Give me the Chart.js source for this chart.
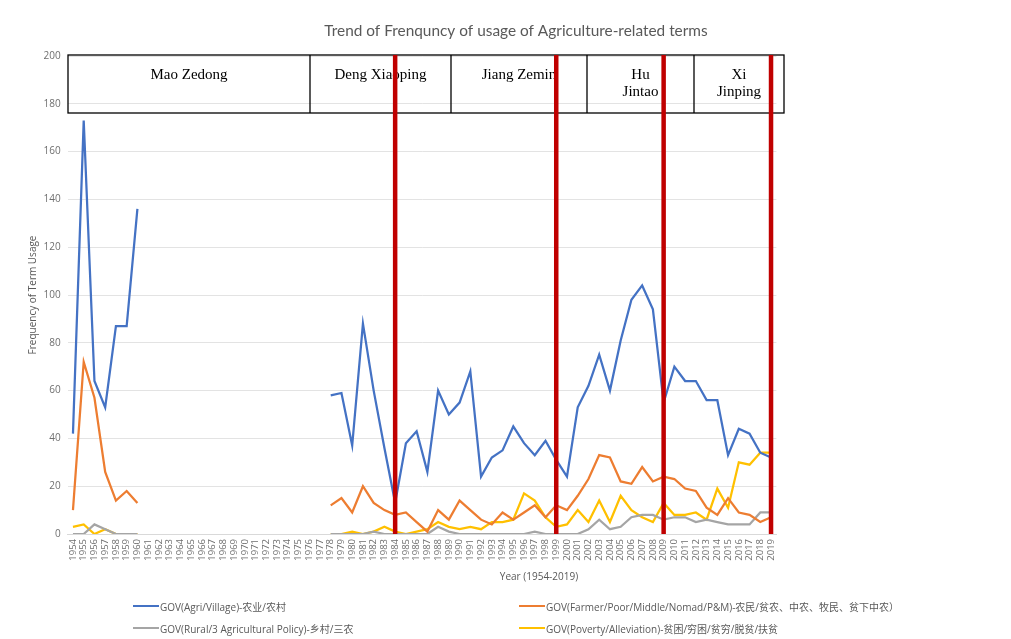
<!DOCTYPE html>
<html>
<head>
<meta charset="utf-8">
<script src="https://cdn.jsdelivr.net/npm/chart.js@4.4.1/dist/chart.umd.min.js"></script>
<style>
  body { margin: 0; background: #fff; }
  #wrap { position: relative; width: 1011px; height: 639px; }
  .lg { position: absolute; height: 14px; font: 10px 'Open Sans', 'Noto Sans CJK SC', sans-serif; color: #595959;
        display: flex; align-items: center; white-space: nowrap; }
  .lg i { display: inline-block; width: 26px; height: 2px; margin-right: 1px; }
</style>
</head>
<body>
<div id="wrap">
  <canvas id="grafico"></canvas>
</div>
<script>
// Dados
const years = ['1954','1955','1956','1957','1958','1959','1960','1961','1962','1963','1964','1965','1966','1967','1968','1969','1970','1971','1972','1973','1974','1975','1976','1977','1978','1979','1980','1981','1982','1983','1984','1985','1986','1987','1988','1989','1990','1991','1992','1993','1994','1995','1996','1997','1998','1999','2000','2001','2002','2003','2004','2005','2006','2007','2008','2009','2010','2011','2012','2013','2014','2015','2016','2017','2018','2019'];

const gap = [null,null,null,null,null,null,null,null,null,null,null,null,null,null,null,null,null]; // 1961-1977

const agriVillage = [42,173,64,53,87,87,136, ...gap,
  58,59,37,88,60,36,13,
  38,43,26,60,50,55,68,24,32,35,45,38,33,39,31,
  24,53,62,75,60,81,98,104,94,55,70,64,64,56,56,33,44,42,34,32];

const farmer = [10,72,57,26,14,18,13, ...gap,
  12,15,9,20,13,10,8,
  9,5,1,10,6,14,10,6,4,9,6,9,12,7,12,
  10,16,23,33,32,22,21,28,22,24,23,19,18,11,8,15,9,8,5,7];

const rural = [0,0,4,2,0,0,0, ...gap,
  0,0,0,0,1,0,0,
  0,0,0,3,1,0,0,0,0,0,0,0,1,0,0,
  0,0,2,6,2,3,7,8,8,6,7,7,5,6,5,4,4,4,9,9];

const poverty = [3,4,0,2,0,0,0, ...gap,
  0,0,1,0,1,3,1,
  0,1,2,5,3,2,3,2,5,5,6,17,14,7,3,
  4,10,5,14,5,16,10,7,5,13,8,8,9,6,19,11,30,29,34,34];

const seriesLabels = [
  'GOV(Agri/Village)-农业/农村',
  'GOV(Farmer/Poor/Middle/Nomad/P&M)-农民/贫农、中农、牧民、贫下中农）',
  'GOV(Rural/3 Agricultural Policy)-乡村/三农',
  'GOV(Poverty/Alleviation)-贫困/穷困/贫穷/脱贫/扶贫'
];
const seriesColors = ['#4472C4', '#ED7D31', '#A5A5A5', '#FFC000'];

// Anos de transição (linhas vermelhas) e líderes
const transitionYears = ['1984', '1999', '2009', '2019'];
const leaders = [['Mao Zedong'], ['Deng Xiaoping'], ['Jiang Zemin'], ['Hu', 'Jintao'], ['Xi', 'Jinping']];

const chartTitle = 'Trend of Frenquncy of usage of Agriculture-related terms';
const xTitle = 'Year (1954-2019)';
const yTitle = 'Frequency of Term Usage';

// Tabela dos líderes + linhas vermelhas + títulos
const overlayPlugin = {
  id: 'overlay',
  afterDraw(chart) {
    const ctx = chart.ctx;
    const x = chart.scales.x;
    const area = chart.chartArea;
    ctx.save();

    // tabela
    const top = 55, bottom = 113;
    const cols = [68, 310, 451, 587, 694, 784];
    ctx.strokeStyle = '#000';
    ctx.lineWidth = 1.3;
    ctx.strokeRect(cols[0], top, cols[5] - cols[0], bottom - top);
    for (let i = 1; i < cols.length - 1; i++) {
      ctx.beginPath();
      ctx.moveTo(cols[i], top);
      ctx.lineTo(cols[i], bottom);
      ctx.stroke();
    }
    ctx.fillStyle = '#000';
    ctx.font = '15px "Liberation Serif", "Times New Roman", serif';
    ctx.textAlign = 'center';
    ctx.textBaseline = 'middle';
    leaders.forEach((lines, i) => {
      const cx = (cols[i] + cols[i + 1]) / 2;
      lines.forEach((t, j) => ctx.fillText(t, cx, 75 + j * 17));
    });

    // linhas vermelhas
    ctx.strokeStyle = '#C00000';
    ctx.lineWidth = 4.5;
    transitionYears.forEach(y => {
      const px = x.getPixelForValue(years.indexOf(y));
      ctx.beginPath();
      ctx.moveTo(px, top);
      ctx.lineTo(px, area.bottom);
      ctx.stroke();
    });

    // títulos
    ctx.fillStyle = '#595959';
    ctx.font = '15.4px Lato, sans-serif';
    ctx.fillText(chartTitle, 516, 31);
    ctx.font = '10px "Open Sans", sans-serif';
    ctx.fillText(xTitle, 539, 577);
    ctx.restore();
  }
};

const canvas = document.getElementById('grafico');
new Chart(canvas.getContext('2d'), {
  type: 'line',
  data: {
    labels: years,
    datasets: [agriVillage, farmer, rural, poverty].map((d, i) => ({
      label: seriesLabels[i],
      data: d,
      borderColor: seriesColors[i],
      backgroundColor: seriesColors[i],
      borderWidth: 2.25,
      pointRadius: 0,
      tension: 0,
      spanGaps: false
    }))
  },
  options: {
    responsive: true,
    maintainAspectRatio: false,
    animation: false,
    layout: { padding: { left: 20, right: 234.6, top: 56, bottom: 65 } },
    plugins: {
      legend: { display: false },
      title: { display: false },
      tooltip: { enabled: false }
    },
    scales: {
      x: {
        offset: true,
        grid: { display: false, drawTicks: false },
        border: { color: '#d9d9d9' },
        ticks: {
          autoSkip: false, maxRotation: 90, minRotation: 90, padding: 5,
          color: '#6f6f6f', font: { family: 'Open Sans', size: 9.5 }
        },
        afterFit(scale) { scale.height = 40; }
      },
      y: {
        min: 0, max: 200,
        grid: { color: '#e3e3e3', drawTicks: false },
        border: { display: false },
        ticks: { stepSize: 20, padding: 7, color: '#6f6f6f', font: { family: 'Open Sans', size: 10 } },
        title: {
          display: true, text: yTitle, color: '#595959',
          font: { family: 'Open Sans', size: 10 }, padding: { top: 7, bottom: 0 }
        },
        afterFit(scale) { scale.width = 47.6; }
      }
    }
  },
  plugins: [overlayPlugin]
});

// Legenda em duas colunas
const wrap = document.getElementById('wrap');
const legendPos = [[133, 599], [519, 599], [133, 621], [519, 621]];
seriesLabels.forEach((t, i) => {
  const el = document.createElement('div');
  el.className = 'lg';
  el.style.left = legendPos[i][0] + 'px';
  el.style.top = legendPos[i][1] + 'px';
  el.innerHTML = `<i style="background:${seriesColors[i]}"></i>`;
  el.appendChild(document.createTextNode(t));
  wrap.appendChild(el);
});
</script>
</body>
</html>
